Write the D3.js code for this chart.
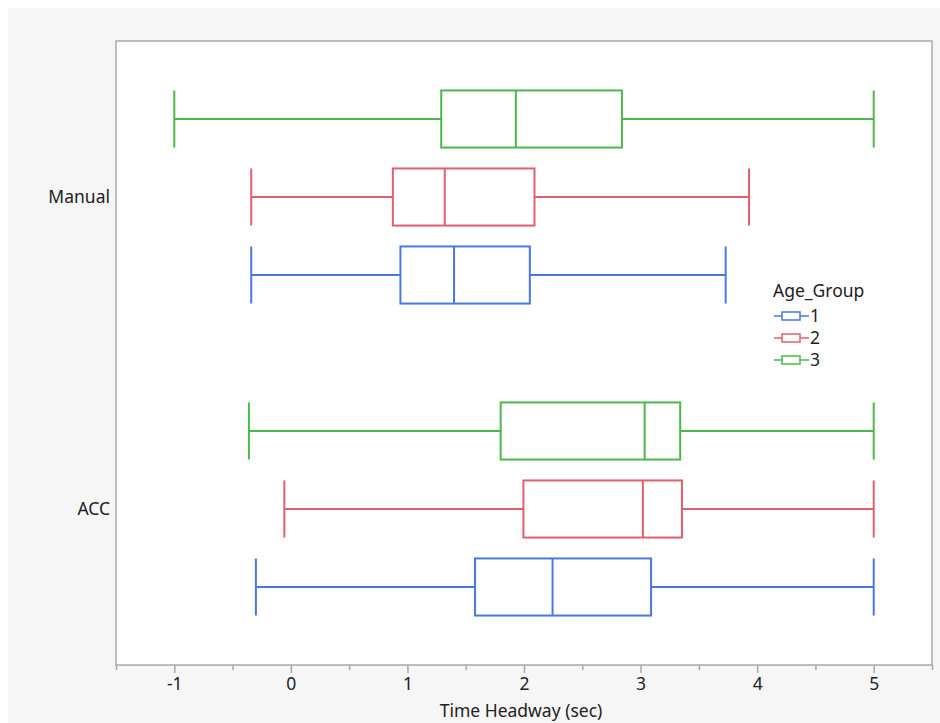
<!DOCTYPE html>
<html>
<head>
<meta charset="utf-8">
<script src="https://cdn.jsdelivr.net/npm/d3@7"></script>
<style>
  html, body { margin: 0; padding: 0; background: #fff; }
  text { font-family: "Noto Sans", "Open Sans", sans-serif; fill: #222; }
</style>
</head>
<body>
<script>
// Chart data: five-number summaries [min, q1, median, q3, max] per age group
const categories = ["Manual", "ACC"];
const ageGroups = ["1", "2", "3"];
const manualStats = [
  [-0.34, 0.94, 1.40, 2.05, 3.73],   // group 1
  [-0.34, 0.875, 1.32, 2.09, 3.93],  // group 2
  [-1.0, 1.29, 1.93, 2.84, 5.0]      // group 3
];
const accStats = [
  [-0.30, 1.58, 2.245, 3.09, 5.0],
  [-0.056, 1.995, 3.02, 3.355, 5.0],
  [-0.36, 1.80, 3.035, 3.34, 5.0]
];
const xTicks = [-1, 0, 1, 2, 3, 4, 5];
const xDomain = [-1.5, 5.5];
const colors = ["#4a78e0", "#e0606e", "#4cb84c"];

// Setup
const w = 940;
const h = 723;
const fs = 17.5;
const plot = { left: 116, top: 41, right: 932, bottom: 665 };

const svg = d3.select("body")
  .append("svg")
  .attr("width", w)
  .attr("height", h);

// grey panel background
svg.append("rect")
  .attr("x", 8).attr("y", 8)
  .attr("width", w - 8).attr("height", h - 8)
  .attr("fill", "#f6f6f6");

svg.append("rect")
  .attr("x", plot.left).attr("y", plot.top)
  .attr("width", plot.right - plot.left)
  .attr("height", plot.bottom - plot.top)
  .attr("fill", "#fff");

const x = d3.scaleLinear()
  .domain(xDomain)
  .range([plot.left, plot.right]);

const y = d3.scaleBand()
  .domain(categories)
  .range([plot.top, plot.bottom]);

// groups stacked 3 on top, 1 on bottom
const ySub = d3.scalePoint()
  .domain(["3", "2", "1"])
  .range([0, y.bandwidth()])
  .padding(1);

const boxH = y.bandwidth() * 0.183;

const rows = [];
categories.forEach((cat, ci) => {
  const stats = ci === 0 ? manualStats : accStats;
  ageGroups.forEach((g, gi) => {
    const s = stats[gi];
    rows.push({ cat, g, color: colors[gi], min: s[0], q1: s[1], med: s[2], q3: s[3], max: s[4] });
  });
});

const boxes = svg.append("g")
  .selectAll("g")
  .data(rows)
  .join("g")
  .attr("transform", d => `translate(0, ${y(d.cat) + ySub(d.g)})`)
  .attr("stroke", d => d.color)
  .attr("stroke-width", 2)
  .attr("fill", "none");

// whiskers
boxes.append("line")
  .attr("x1", d => x(d.min)).attr("x2", d => x(d.q1))
  .attr("y1", 0).attr("y2", 0);
boxes.append("line")
  .attr("x1", d => x(d.q3)).attr("x2", d => x(d.max))
  .attr("y1", 0).attr("y2", 0);
// caps
boxes.append("line")
  .attr("x1", d => x(d.min)).attr("x2", d => x(d.min))
  .attr("y1", -boxH / 2).attr("y2", boxH / 2);
boxes.append("line")
  .attr("x1", d => x(d.max)).attr("x2", d => x(d.max))
  .attr("y1", -boxH / 2).attr("y2", boxH / 2);
// box + median
boxes.append("rect")
  .attr("x", d => x(d.q1))
  .attr("width", d => x(d.q3) - x(d.q1))
  .attr("y", -boxH / 2)
  .attr("height", boxH);
boxes.append("line")
  .attr("x1", d => x(d.med)).attr("x2", d => x(d.med))
  .attr("y1", -boxH / 2).attr("y2", boxH / 2);

// frame
svg.append("rect")
  .attr("x", plot.left).attr("y", plot.top)
  .attr("width", plot.right - plot.left)
  .attr("height", plot.bottom - plot.top)
  .attr("fill", "none")
  .attr("stroke", "#a8a8a8")
  .attr("stroke-width", 1.5);

// x axis: minor ticks at halves, major at integers
const xAxisMinor = d3.axisBottom(x)
  .tickValues(d3.range(xDomain[0], xDomain[1] + 0.01, 1))
  .tickSize(5)
  .tickFormat("");
const xAxis = d3.axisBottom(x)
  .tickValues(xTicks)
  .tickSize(8)
  .tickPadding(5)
  .tickFormat(d => String(d));

const gMinor = svg.append("g")
  .attr("transform", `translate(0, ${plot.bottom})`)
  .call(xAxisMinor);
gMinor.select(".domain").remove();
gMinor.selectAll("line").attr("stroke", "#a8a8a8").attr("stroke-width", 1.5);

const gx = svg.append("g")
  .attr("transform", `translate(0, ${plot.bottom})`)
  .call(xAxis);
gx.select(".domain").remove();
gx.selectAll("line").attr("stroke", "#a8a8a8").attr("stroke-width", 1.5);
gx.selectAll("text")
  .attr("font-size", fs)
  .style("font-family", "'Noto Sans', sans-serif")
  .attr("fill", "#222");

svg.append("text")
  .attr("x", (plot.left + plot.right) / 2 - 3)
  .attr("y", 717)
  .attr("text-anchor", "middle")
  .attr("font-size", fs)
  .text("Time Headway (sec)");

// y labels
svg.append("g")
  .selectAll("text")
  .data(categories)
  .join("text")
  .attr("x", 110)
  .attr("y", d => y(d) + y.bandwidth() / 2)
  .attr("dy", "0.35em")
  .attr("text-anchor", "end")
  .attr("font-size", fs)
  .text(d => d);

// legend
const legend = svg.append("g").attr("transform", "translate(773, 0)");
legend.append("text")
  .attr("x", 0).attr("y", 297)
  .attr("font-size", fs)
  .text("Age_Group");

const items = legend.selectAll("g.item")
  .data(ageGroups)
  .join("g")
  .attr("class", "item")
  .attr("transform", (d, i) => `translate(0, ${316 + i * 22})`);

items.append("line")
  .attr("x1", 1).attr("x2", 36)
  .attr("stroke", (d, i) => colors[i]).attr("stroke-width", 1.5);
items.append("rect")
  .attr("x", 9).attr("y", -4)
  .attr("width", 18).attr("height", 8)
  .attr("fill", "#fff")
  .attr("stroke", (d, i) => colors[i]).attr("stroke-width", 1.5);
items.append("text")
  .attr("x", 37).attr("dy", "0.35em")
  .attr("font-size", fs)
  .text(d => d);
</script>
</body>
</html>
